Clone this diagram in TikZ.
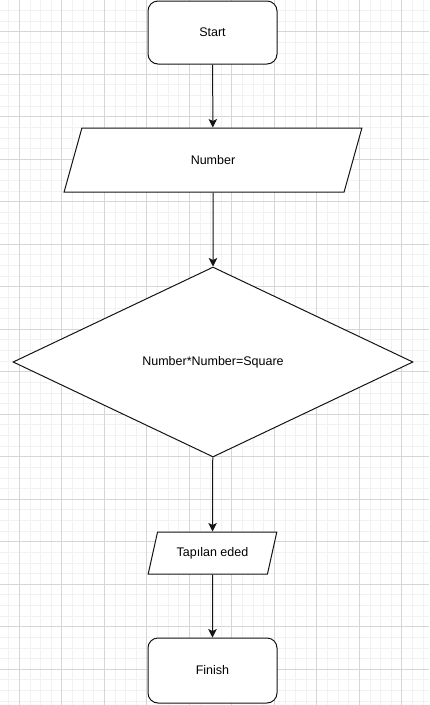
\documentclass[tikz,border=0pt]{standalone}
\usepackage{fontspec}
\setmainfont{Liberation Sans}
\usetikzlibrary{arrows.meta,shapes.geometric}
\definecolor{fcGridL}{RGB}{242,242,242}
\definecolor{fcGridD}{RGB}{214,214,214}
\definecolor{fcLine} {RGB}{ 20, 20, 20}
\begin{document}
\begin{tikzpicture}[
  x=1pt,y=-1pt,
  >={Stealth[length=8.5pt,width=8.5pt,inset=2pt]},
  every node/.style={font=\fontsize{12.5}{15}\selectfont,inner sep=0pt},
  term/.style ={draw=fcLine,fill=white,line width=1pt,rounded corners=10pt,
                minimum width=129pt,minimum height=63pt,align=center},
  io/.style   ={draw=fcLine,fill=white,line width=1pt,trapezium,
                trapezium stretches=true,align=center},
  cond/.style ={draw=fcLine,fill=white,line width=1pt,diamond,
                minimum width=400pt,minimum height=190pt,align=center},
  flow/.style ={->,draw=fcLine,line width=1pt}
]
\useasboundingbox (0,0) rectangle (429,705);
\fill[white] (0,0) rectangle (429,705);

% grid
\foreach \gx in {8.675,19.3,...,429}
  \draw[fcGridL,line width=0.8pt] (\gx,0) -- (\gx,705);
\foreach \gy in {10.45,21.075,...,705}
  \draw[fcGridL,line width=0.8pt] (0,\gy) -- (429,\gy);
\foreach \gx in {19.3,61.8,...,429}
  \draw[fcGridD,line width=0.8pt] (\gx,0) -- (\gx,705);
\foreach \gy in {31.7,74.2,...,705}
  \draw[fcGridD,line width=0.8pt] (0,\gy) -- (429,\gy);

\node[term] (start) at (212.5,32.5) {Start};
\node[io,minimum width=298pt,minimum height=64pt,
      trapezium left angle=71.8,trapezium right angle=108.2]
      (num) at (213,160) {Number};
\node[cond] (sq) at (213,362) {Number*Number=Square};
\node[io,minimum width=129pt,minimum height=42pt,
      trapezium left angle=62.4,trapezium right angle=117.6]
      (res) at (212.5,553) {Tapılan eded};
\node[term,minimum height=65pt] (fin) at (212.5,670.5) {Finish};

\foreach \i/\j in {start/num,num/sq,sq/res,res/fin}
  \draw[flow] (\i) -- (\j);
\end{tikzpicture}
\end{document}
